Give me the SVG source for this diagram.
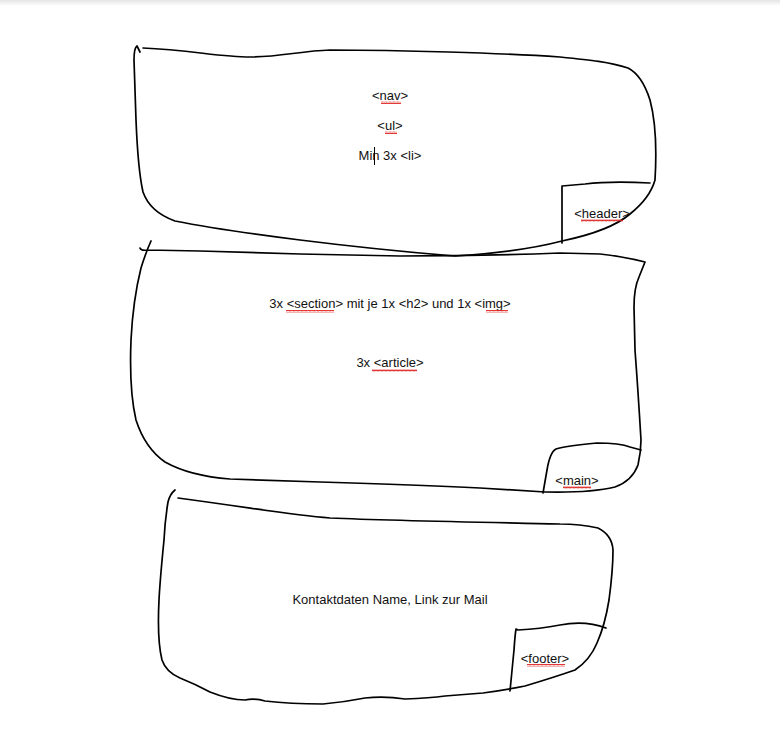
<svg xmlns="http://www.w3.org/2000/svg" width="780" height="740" viewBox="0 0 780 740">
<defs>
<linearGradient id="topband" x1="0" y1="0" x2="0" y2="1">
<stop offset="0" stop-color="#e4e4e4"/>
<stop offset="1" stop-color="#ffffff"/>
</linearGradient>
<pattern id="sq" width="4" height="3" patternUnits="userSpaceOnUse">
<path d="M0 2.4 L1 0.6 L2 2.4 L3 0.6 L4 2.4" fill="none" stroke="#e02020" stroke-width="0.9"/>
</pattern>
<style>
.ink{fill:none;stroke:#000;stroke-width:1.7;stroke-linecap:round;stroke-linejoin:round}
.t{font-family:"Liberation Sans",Arial,sans-serif;font-size:13px;fill:#111;text-anchor:middle}
.sq{fill:url(#sq)}
</style>
</defs>
<rect x="0" y="0" width="780" height="740" fill="#fff"/>
<rect x="0" y="0" width="780" height="6" fill="url(#topband)"/>

<g id="header">
<path class="ink" d="M140 52 L137 46 Q134 48 134 60 L136 120 Q138 170 143 192 Q150 212 175 221 Q220 230 300 240 Q380 250 455 256 Q520 252 562 241 Q610 231 630 214 Q650 198 655 180 Q658 130 650 100 Q642 75 628 68 C610 62 590 60 560 57 C500 53 400 50 330 50 C300 51 280 57 250 57 C220 57 190 50 143 48"/>
<path class="ink" d="M562 243 L562 186 L585 184 Q610 181 650 183"/>
<text class="t" x="390" y="100">&lt;nav&gt;</text>
<rect class="sq" x="381" y="101" width="20" height="3"/>
<text class="t" x="390" y="130">&lt;ul&gt;</text>
<rect class="sq" x="385" y="131" width="12" height="3"/>
<text class="t" x="390" y="160">Min 3x &lt;li&gt;</text>
<line x1="374.5" y1="147" x2="374.5" y2="165" stroke="#000" stroke-width="1"/>
<text class="t" x="602" y="218">&lt;header&gt;</text>
<rect class="sq" x="581" y="219" width="42" height="3"/>
</g>

<g id="main">
<path class="ink" d="M151 241 Q146 252 141 268 Q133 300 131 340 Q129 390 136 420 Q145 448 165 462 Q190 476 230 479 L320 482 Q420 485 480 488 L545 492 Q590 493 615 487 Q632 481 638 465 Q641 452 641 440 Q638 390 635 350 L634 307 Q634 288 639 277 L645 262 Q620 256 600 254 L560 253 Q480 256 400 256 L300 254 L200 251 L147 250 Q141 251 140 248"/>
<path class="ink" d="M543 493 L547 470 Q550 452 556 449 Q565 446 597 443 Q620 443 630 447 L641 450"/>
<text class="t" x="390" y="308">3x &lt;section&gt; mit je 1x &lt;h2&gt; und 1x &lt;img&gt;</text>
<rect class="sq" x="286" y="310" width="48" height="3"/>
<rect class="sq" x="486" y="310" width="22" height="3"/>
<text class="t" x="390" y="367">3x &lt;article&gt;</text>
<rect class="sq" x="372" y="369" width="45" height="3"/>
<text class="t" x="577" y="485">&lt;main&gt;</text>
<rect class="sq" x="563" y="486" width="28" height="3"/>
</g>

<g id="footer">
<path class="ink" d="M175 490 Q170 494 168 502 Q165 520 164 540 Q160 580 159 600 Q157 640 162 660 Q166 672 180 678 Q195 684 210 692 Q230 700 245 700 Q255 698 265 701 Q290 704 323 704 Q345 702 365 698 Q385 696 405 699 Q430 698 445 696 Q470 694 483 693 Q505 690 525 686 Q555 677 575 670 Q590 660 597 643 Q605 625 609 600 Q613 570 613 550 Q612 535 598 528 Q580 524 560 524 C520 523 400 521 330 518 C290 515 260 509 178 498"/>
<path class="ink" d="M510 691 L514 650 Q515 635 516 629 L518 630 Q540 629 560 625 Q585 620 606 628"/>
<text class="t" x="390" y="604">Kontaktdaten Name, Link zur Mail</text>
<text class="t" x="545" y="663">&lt;footer&gt;</text>
<rect class="sq" x="527" y="664" width="38" height="3"/>
</g>
</svg>
